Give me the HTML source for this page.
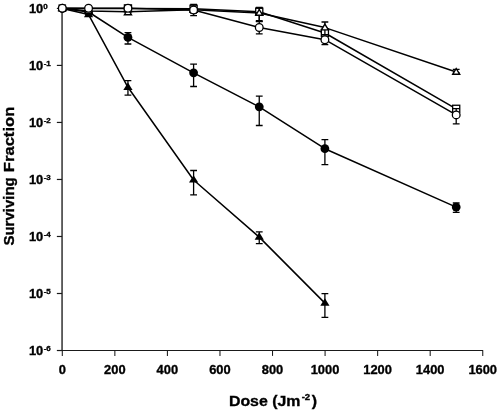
<!DOCTYPE html>
<html><head><meta charset="utf-8"><title>Surviving Fraction vs Dose</title>
<style>html,body{margin:0;padding:0;background:#fff}svg{display:block}text{font-family:"Liberation Sans",Arial,Helvetica,sans-serif;font-weight:bold;fill:#000;stroke:#000;stroke-width:0.35px}</style></head><body>
<svg width="498" height="412" viewBox="0 0 498 412">
<rect width="498" height="412" fill="#fff"/>
<g stroke="#1a1a1a" fill="none">
<line x1="62.05" y1="8.4" x2="62.05" y2="351.0" stroke-width="1.35"/>
<line x1="61.449999999999996" y1="350.5" x2="483.1" y2="350.5" stroke-width="1.1"/>
<line x1="56.849999999999994" y1="8.4" x2="62.05" y2="8.4" stroke-width="1.2"/>
<line x1="56.849999999999994" y1="65.42" x2="62.05" y2="65.42" stroke-width="1.2"/>
<line x1="56.849999999999994" y1="122.44" x2="62.05" y2="122.44" stroke-width="1.2"/>
<line x1="56.849999999999994" y1="179.46" x2="62.05" y2="179.46" stroke-width="1.2"/>
<line x1="56.849999999999994" y1="236.48" x2="62.05" y2="236.48" stroke-width="1.2"/>
<line x1="56.849999999999994" y1="293.5" x2="62.05" y2="293.5" stroke-width="1.2"/>
<line x1="56.849999999999994" y1="350.52" x2="62.05" y2="350.52" stroke-width="1.2"/>
<line x1="62.30" y1="350.5" x2="62.30" y2="355.9" stroke-width="1.05"/>
<line x1="114.86" y1="350.5" x2="114.86" y2="355.9" stroke-width="1.05"/>
<line x1="167.41" y1="350.5" x2="167.41" y2="355.9" stroke-width="1.05"/>
<line x1="219.97" y1="350.5" x2="219.97" y2="355.9" stroke-width="1.05"/>
<line x1="272.52" y1="350.5" x2="272.52" y2="355.9" stroke-width="1.05"/>
<line x1="325.08" y1="350.5" x2="325.08" y2="355.9" stroke-width="1.05"/>
<line x1="377.64" y1="350.5" x2="377.64" y2="355.9" stroke-width="1.05"/>
<line x1="430.19" y1="350.5" x2="430.19" y2="355.9" stroke-width="1.05"/>
<line x1="482.75" y1="350.5" x2="482.75" y2="355.9" stroke-width="1.05"/>
</g>
<text transform="translate(28.9,13.0) scale(1,0.97)" font-size="12.9">10<tspan font-size="8.0" dy="-4.3" dx="0">0</tspan></text>
<text transform="translate(28.9,69.9) scale(1,0.97)" font-size="12.9">10<tspan font-size="8.0" dy="-4.3" dx="0.4">-1</tspan></text>
<text transform="translate(28.9,126.85) scale(1,0.97)" font-size="12.9">10<tspan font-size="8.0" dy="-4.3" dx="0.4">-2</tspan></text>
<text transform="translate(28.9,183.9) scale(1,0.97)" font-size="12.9">10<tspan font-size="8.0" dy="-4.3" dx="0.4">-3</tspan></text>
<text transform="translate(28.9,240.9) scale(1,0.97)" font-size="12.9">10<tspan font-size="8.0" dy="-4.3" dx="0.4">-4</tspan></text>
<text transform="translate(28.9,297.9) scale(1,0.97)" font-size="12.9">10<tspan font-size="8.0" dy="-4.3" dx="0.4">-5</tspan></text>
<text transform="translate(28.9,354.7) scale(1,0.97)" font-size="12.9">10<tspan font-size="8.0" dy="-4.3" dx="0.4">-6</tspan></text>
<text transform="translate(62.25,374.2) scale(1,0.97)" font-size="12.9" text-anchor="middle">0</text>
<text transform="translate(114.81,374.2) scale(1,0.97)" font-size="12.9" text-anchor="middle">200</text>
<text transform="translate(167.36,374.2) scale(1,0.97)" font-size="12.9" text-anchor="middle">400</text>
<text transform="translate(219.92,374.2) scale(1,0.97)" font-size="12.9" text-anchor="middle">600</text>
<text transform="translate(272.47,374.2) scale(1,0.97)" font-size="12.9" text-anchor="middle">800</text>
<text transform="translate(325.03,374.2) scale(1,0.97)" font-size="12.9" text-anchor="middle">1000</text>
<text transform="translate(377.59,374.2) scale(1,0.97)" font-size="12.9" text-anchor="middle">1200</text>
<text transform="translate(430.14,374.2) scale(1,0.97)" font-size="12.9" text-anchor="middle">1400</text>
<text transform="translate(482.70,374.2) scale(1,0.97)" font-size="12.9" text-anchor="middle">1600</text>
<text transform="translate(228.9,405.6) scale(1,0.93)" font-size="15.9">Dose (Jm<tspan font-size="9.6" dy="-6.2" dx="1.2">-2</tspan><tspan dy="6.2" dx="1.6">)</tspan></text>
<text transform="translate(13.5,245.6) rotate(-90)" font-size="15.0">Surviving</text>
<text transform="translate(13.5,172.2) rotate(-90)" font-size="15.2" textLength="65.5" lengthAdjust="spacingAndGlyphs">Fraction</text>
<polyline points="62.3,8.5 88.56,14.6 127.95,87.3 193.6,180.0 259.25,237.1 324.9,303.1" fill="none" stroke="#000" stroke-width="1.5" stroke-linejoin="round"/>
<path d="M127.95,80.6V95.2M124.55,80.6H131.35M124.55,95.2H131.35" stroke="#000" stroke-width="1.3" fill="none"/>
<path d="M193.6,170.5V194.8M190.2,170.5H197.0M190.2,194.8H197.0" stroke="#000" stroke-width="1.3" fill="none"/>
<path d="M259.25,231.8V243.6M255.85,231.8H262.65M255.85,243.6H262.65" stroke="#000" stroke-width="1.3" fill="none"/>
<path d="M324.9,293.7V317.3M321.5,293.7H328.29999999999995M321.5,317.3H328.29999999999995" stroke="#000" stroke-width="1.3" fill="none"/>
<polygon points="62.3,3.7 66.89999999999999,11.1 57.699999999999996,11.1" fill="#000"/>
<polygon points="88.56,9.8 93.16,17.2 83.96000000000001,17.2" fill="#000"/>
<polygon points="127.95,82.5 132.55,89.89999999999999 123.35000000000001,89.89999999999999" fill="#000"/>
<polygon points="193.6,175.2 198.2,182.6 189.0,182.6" fill="#000"/>
<polygon points="259.25,232.29999999999998 263.85,239.7 254.65,239.7" fill="#000"/>
<polygon points="324.9,298.3 329.5,305.70000000000005 320.29999999999995,305.70000000000005" fill="#000"/>
<polyline points="62.3,8.5 88.56,12.0 127.95,37.4 193.6,72.8 259.25,106.8 324.9,148.7 456.2,207.1" fill="none" stroke="#000" stroke-width="1.5" stroke-linejoin="round"/>
<path d="M127.95,32.6V44M124.55,32.6H131.35M124.55,44H131.35" stroke="#000" stroke-width="1.3" fill="none"/>
<path d="M193.6,64.1V86.5M190.2,64.1H197.0M190.2,86.5H197.0" stroke="#000" stroke-width="1.3" fill="none"/>
<path d="M259.25,96.2V125.5M255.85,96.2H262.65M255.85,125.5H262.65" stroke="#000" stroke-width="1.3" fill="none"/>
<path d="M324.9,139.6V164.6M321.5,139.6H328.29999999999995M321.5,164.6H328.29999999999995" stroke="#000" stroke-width="1.3" fill="none"/>
<path d="M456.2,203V212.4M452.8,203H459.59999999999997M452.8,212.4H459.59999999999997" stroke="#000" stroke-width="1.3" fill="none"/>
<circle cx="62.3" cy="8.5" r="4.4" fill="#000"/>
<circle cx="88.56" cy="12.0" r="4.4" fill="#000"/>
<circle cx="127.95" cy="37.4" r="4.4" fill="#000"/>
<circle cx="193.6" cy="72.8" r="4.4" fill="#000"/>
<circle cx="259.25" cy="106.8" r="4.4" fill="#000"/>
<circle cx="324.9" cy="148.7" r="4.4" fill="#000"/>
<circle cx="456.2" cy="207.1" r="4.4" fill="#000"/>
<polyline points="62.3,8.3 88.56,8.4 127.95,8.4 193.6,8.75 259.25,11.7 324.9,33.0 456.2,108.8" fill="none" stroke="#000" stroke-width="1.5" stroke-linejoin="round"/>
<path d="M193.6,4.4V13M190.2,4.4H197.0M190.2,13H197.0" stroke="#000" stroke-width="1.3" fill="none"/>
<path d="M259.25,7.4V21.6M255.85,7.4H262.65M255.85,21.6H262.65" stroke="#000" stroke-width="1.3" fill="none"/>
<rect x="59.099999999999994" y="5.000000000000001" width="6.4" height="6.4" fill="#fff" stroke="#000" stroke-width="1.2"/>
<rect x="124.4" y="4.8500000000000005" width="7.1" height="7.1" fill="#fff" stroke="#000" stroke-width="1.3"/>
<rect x="190.04999999999998" y="5.2" width="7.1" height="7.1" fill="#fff" stroke="#000" stroke-width="1.3"/>
<rect x="255.7" y="8.149999999999999" width="7.1" height="7.1" fill="#fff" stroke="#000" stroke-width="1.3"/>
<rect x="321.34999999999997" y="29.45" width="7.1" height="7.1" fill="#fff" stroke="#000" stroke-width="1.3"/>
<rect x="452.65" y="105.25" width="7.1" height="7.1" fill="#fff" stroke="#000" stroke-width="1.3"/>
<polyline points="62.3,8.3 88.56,10.9 127.95,11.8 193.6,9.8 259.25,13.0 324.9,27.6 456.2,72.0" fill="none" stroke="#000" stroke-width="1.5" stroke-linejoin="round"/>
<path d="M259.25,8V20.6M255.85,8H262.65M255.85,20.6H262.65" stroke="#000" stroke-width="1.3" fill="none"/>
<path d="M324.9,22.0V34.6M321.5,22.0H328.29999999999995M321.5,34.6H328.29999999999995" stroke="#000" stroke-width="1.3" fill="none"/>
<path d="M456.2,69.3V73M452.8,69.3H459.59999999999997M452.8,73H459.59999999999997" stroke="#000" stroke-width="1.3" fill="none"/>
<polygon points="62.3,4.800000000000001 65.8,10.600000000000001 58.8,10.600000000000001" fill="#fff" stroke="#000" stroke-width="1.4" stroke-linejoin="miter"/>
<polygon points="88.56,7.4 92.06,13.2 85.06,13.2" fill="#fff" stroke="#000" stroke-width="1.4" stroke-linejoin="miter"/>
<polygon points="127.95,8.9 131.45,14.7 124.45,14.7" fill="#fff" stroke="#000" stroke-width="1.4" stroke-linejoin="miter"/>
<polygon points="193.6,6.300000000000001 197.1,12.100000000000001 190.1,12.100000000000001" fill="#fff" stroke="#000" stroke-width="1.4" stroke-linejoin="miter"/>
<polygon points="259.25,9.5 262.75,15.3 255.75,15.3" fill="#fff" stroke="#000" stroke-width="1.4" stroke-linejoin="miter"/>
<polygon points="324.9,24.1 328.4,29.900000000000002 321.4,29.900000000000002" fill="#fff" stroke="#000" stroke-width="1.4" stroke-linejoin="miter"/>
<polygon points="456.2,68.5 459.7,74.3 452.7,74.3" fill="#fff" stroke="#000" stroke-width="1.4" stroke-linejoin="miter"/>
<polyline points="62.3,8.2 88.56,8.3 127.95,8.3 193.6,10 259.25,27.5 324.9,39.7 456.2,114.9" fill="none" stroke="#000" stroke-width="1.5" stroke-linejoin="round"/>
<path d="M193.6,10V15.7M190.2,10H197.0M190.2,15.7H197.0" stroke="#000" stroke-width="1.3" fill="none"/>
<path d="M259.25,21.4V33.8M255.85,21.4H262.65M255.85,33.8H262.65" stroke="#000" stroke-width="1.3" fill="none"/>
<path d="M324.9,34.8V44.6M321.5,34.8H328.29999999999995M321.5,44.6H328.29999999999995" stroke="#000" stroke-width="1.3" fill="none"/>
<path d="M456.2,108.6V123.9M452.8,108.6H459.59999999999997M452.8,123.9H459.59999999999997" stroke="#000" stroke-width="1.3" fill="none"/>
<circle cx="62.3" cy="8.2" r="3.85" fill="#fff" stroke="#000" stroke-width="1.3"/>
<circle cx="88.56" cy="8.3" r="3.85" fill="#fff" stroke="#000" stroke-width="1.3"/>
<circle cx="127.95" cy="8.3" r="3.85" fill="#fff" stroke="#000" stroke-width="1.3"/>
<circle cx="193.6" cy="10" r="3.85" fill="#fff" stroke="#000" stroke-width="1.3"/>
<circle cx="259.25" cy="27.5" r="3.85" fill="#fff" stroke="#000" stroke-width="1.3"/>
<circle cx="324.9" cy="39.7" r="3.85" fill="#fff" stroke="#000" stroke-width="1.3"/>
<circle cx="456.2" cy="114.9" r="3.85" fill="#fff" stroke="#000" stroke-width="1.3"/>
</svg></body></html>
